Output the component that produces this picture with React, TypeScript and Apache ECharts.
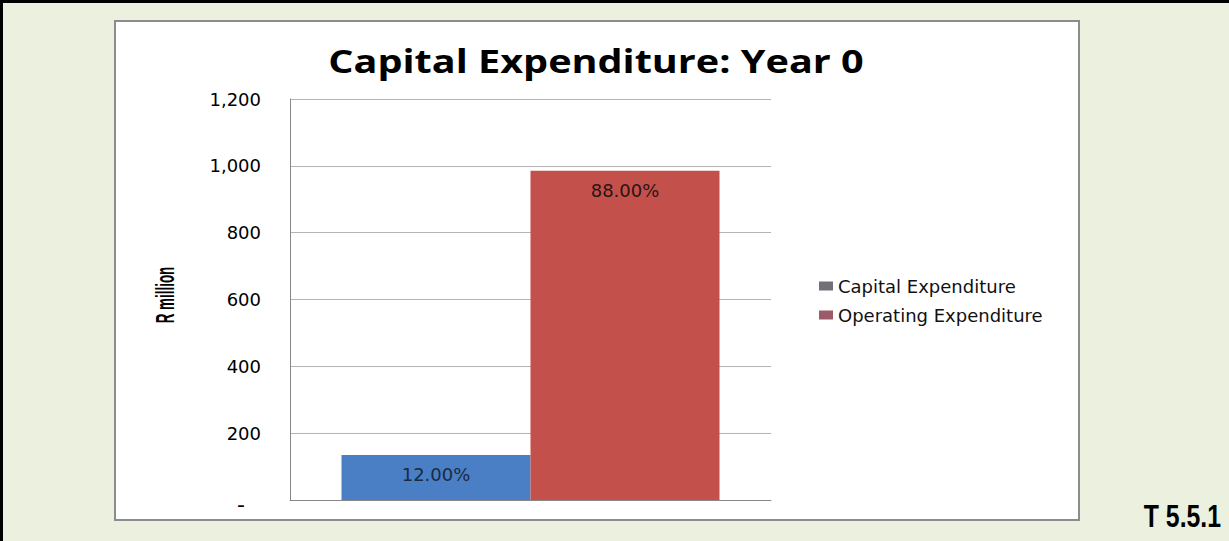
import React, { useEffect, useRef } from "react";
import * as echarts from "echarts";

const categories = ["Year 0"];
const seriesNames = ["Capital Expenditure", "Operating Expenditure"];
const capitalValues = [135];
const operatingValues = [985];
const shareLabels = ["12.00%", "88.00%"];
const yTicks = [0, 200, 400, 600, 800, 1000, 1200];
const titleText = "Capital Expenditure: Year 0";
const axisTitle = "R million";
const tableRef = "T 5.5.1";

export default function App() {
  const ref = useRef<HTMLDivElement>(null);
  useEffect(() => {
    document.body.style.margin = "0";
    const chart = echarts.init(ref.current!, null, { renderer: "svg" });
    const fmt = (v: number) =>
      v === 0 ? "{z|-}" : v.toLocaleString("en-US");
    chart.setOption({
      animation: false,
      backgroundColor: "transparent",
      graphic: [
        {
          type: "rect",
          shape: { x: 115, y: 21, width: 964, height: 499 },
          style: { fill: "#ffffff", stroke: "#8c8c8c", lineWidth: 2 },
          z: -10,
        },
        {
          type: "text",
          x: 596,
          y: 60,
          scaleX: 1.2,
          style: {
            text: titleText,
            fontFamily: "Open Sans",
            fontWeight: "bold",
            fontSize: 33,
            fill: "#000",
            align: "center",
            verticalAlign: "middle",
          },
        },
        {
          type: "text",
          x: 165,
          y: 295,
          rotation: Math.PI / 2,
          scaleX: 0.67,
          scaleY: 1.25,
          style: {
            text: axisTitle,
            fontFamily: "Liberation Sans",
            fontWeight: "bold",
            fontSize: 20,
            fill: "#000",
            align: "center",
            verticalAlign: "middle",
          },
        },
        {
          type: "text",
          x: 1221,
          y: 517,
          scaleX: 0.8,
          style: {
            text: tableRef,
            fontFamily: "Liberation Sans",
            fontWeight: "bold",
            fontSize: 31,
            fill: "#000",
            align: "right",
            verticalAlign: "middle",
          },
        },
      ],
      grid: { left: 290, top: 99, right: 458, bottom: 41, containLabel: false },
      legend: {
        orient: "vertical",
        left: 814,
        top: 272,
        itemWidth: 14,
        itemHeight: 9,
        itemGap: 11,
        icon: "rect",
        textStyle: { fontFamily: "DejaVu Sans", fontSize: 18, color: "#111" },
        data: [
          { name: seriesNames[0], itemStyle: { color: "#6f7078" } },
          { name: seriesNames[1], itemStyle: { color: "#9c5a6a" } },
        ],
      },
      xAxis: {
        type: "category",
        data: categories,
        axisLine: { lineStyle: { color: "#888" } },
        axisTick: { show: false },
        axisLabel: { show: false },
      },
      yAxis: {
        type: "value",
        min: yTicks[0],
        max: yTicks[yTicks.length - 1],
        interval: 200,
        axisLine: { show: true, lineStyle: { color: "#888" } },
        axisTick: { show: false },
        splitLine: { lineStyle: { color: "#b4b4b4", width: 1 } },
        axisLabel: {
          formatter: fmt,
          margin: 29,
          fontFamily: "DejaVu Sans",
          fontSize: 18,
          color: "#000",
          rich: { z: { fontSize: 22, padding: [8, 16, 0, 0], color: "#000" } },
        },
      },
      series: [
        {
          name: seriesNames[0],
          type: "bar",
          data: capitalValues,
          barWidth: 189,
          barGap: "0%",
          itemStyle: { color: "#4a7fc6" },
          label: {
            show: true,
            position: "insideTop",
            distance: 11,
            formatter: () => shareLabels[0],
            fontFamily: "DejaVu Sans",
            fontSize: 18,
            color: "#1a2a40",
          },
        },
        {
          name: seriesNames[1],
          type: "bar",
          data: operatingValues,
          barWidth: 189,
          itemStyle: { color: "#c4504c" },
          label: {
            show: true,
            position: "insideTop",
            distance: 11,
            formatter: () => shareLabels[1],
            fontFamily: "DejaVu Sans",
            fontSize: 18,
            color: "#2a1414",
          },
        },
      ],
    });
    return () => chart.dispose();
  }, []);
  return (
    <div
      style={{
        width: 1229,
        height: 541,
        boxSizing: "border-box",
        borderTop: "3px solid #000",
        borderLeft: "3px solid #000",
        background: "#ebf1de",
        position: "relative",
      }}
    >
      <div
        ref={ref}
        style={{ position: "absolute", left: -3, top: -3, width: 1229, height: 541 }}
      />
    </div>
  );
}
